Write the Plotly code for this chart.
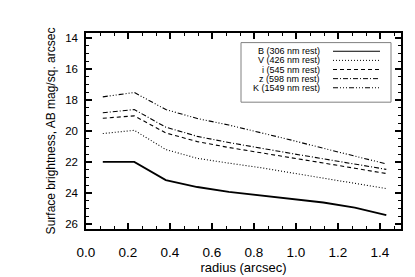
import plotly.graph_objects as go

# ---- data ----
radius = [0.08, 0.23, 0.38, 0.53, 0.68, 0.83, 0.98, 1.13, 1.28, 1.43]
B_mag = [22.0, 22.0, 23.17, 23.62, 23.93, 24.17, 24.38, 24.62, 24.95, 25.44]
V_mag = [20.17, 19.96, 21.2, 21.77, 22.08, 22.37, 22.71, 23.04, 23.38, 23.72]
i_mag = [19.18, 19.03, 20.13, 20.69, 21.07, 21.39, 21.73, 22.07, 22.41, 22.75]
z_mag = [18.83, 18.62, 19.76, 20.35, 20.75, 21.12, 21.46, 21.8, 22.14, 22.48]
K_mag = [17.8, 17.52, 18.62, 19.2, 19.62, 20.1, 20.6, 21.12, 21.63, 22.13]
labels = ["B (306 nm rest)", "V (426 nm rest)", "i (545 nm rest)",
          "z (598 nm rest)", "K (1549 nm rest)"]

# ---- styles ----
FONT = "Liberation Sans, Arial, Helvetica, sans-serif"
dashes = ["solid", "1px,2px", "4px,3px", "5px,2px,1px,2px",
          "5px,2px,1px,2px,1px,2px,1px,2px"]
widths = [1.8, 1.1, 1.1, 1.1, 1.1]
series = [B_mag, V_mag, i_mag, z_mag, K_mag]

W, H = 415, 277
L, R, T, Bm = 78, 22, 25, 48
pw, ph = W - L - R, H - T - Bm

fig = go.Figure()
for name, ys, d, w in zip(labels, series, dashes, widths):
    fig.add_trace(go.Scatter(x=radius, y=ys, mode="lines", name=name,
                             line=dict(color="black", width=w, dash=d),
                             showlegend=False))

def px(xp):
    return (xp - L) / pw

def py(yp):
    return (T + ph - yp) / ph

fig.add_shape(type="rect", xref="paper", yref="paper",
              x0=px(233), x1=px(383), y0=py(97), y1=py(35),
              line=dict(color="#808080", width=1), fillcolor="white", layer="above")
row_y = [44, 53.5, 63, 72.5, 82]
for lab, ry, d in zip(labels, row_y, dashes):
    fig.add_annotation(xref="paper", yref="paper", x=px(313.5), y=py(ry),
                       text=lab, showarrow=False, xanchor="right", yanchor="middle",
                       font=dict(family=FONT, size=9, color="black"))
    fig.add_shape(type="line", xref="paper", yref="paper",
                  x0=px(325), x1=px(372), y0=py(ry), y1=py(ry),
                  line=dict(color="black", width=1.0, dash=d), layer="above")

axis_common = dict(showline=True, linecolor="black", linewidth=1.5, mirror="ticks",
                   ticks="inside", ticklen=6, tickwidth=1.5, tickcolor="black",
                   showgrid=False, zeroline=False)

fig.update_xaxes(range=[0, 1.5], tick0=0, dtick=0.2, tickformat=".1f",
                 tickfont=dict(family=FONT, size=13.5, color="black"),
                 minor=dict(dtick=0.2 / 3, tick0=0, ticks="inside", ticklen=3,
                            tickwidth=1.3, tickcolor="black", showgrid=False),
                 ticklabelstandoff=10,
                 title=dict(text="radius (arcsec)", standoff=4,
                            font=dict(family=FONT, size=13, color="black")),
                 **axis_common)
fig.update_yaxes(range=[26.33, 13.68], tick0=0, dtick=2,
                 tickfont=dict(family=FONT, size=11.5, color="black"),
                 minor=dict(dtick=0.5, tick0=0, ticks="inside", ticklen=3,
                            tickwidth=1.3, tickcolor="black", showgrid=False),
                 ticklabelstandoff=4,
                 title=dict(text="Surface brightness, AB mag/sq. arcsec", standoff=7,
                            font=dict(family=FONT, size=12, color="black")),
                 **axis_common)

fig.update_layout(width=W, height=H, margin=dict(l=L, r=R, t=T, b=Bm, pad=0),
                  paper_bgcolor="white", plot_bgcolor="white",
                  font=dict(family=FONT, color="black"))

fig.write_html("out.html")
